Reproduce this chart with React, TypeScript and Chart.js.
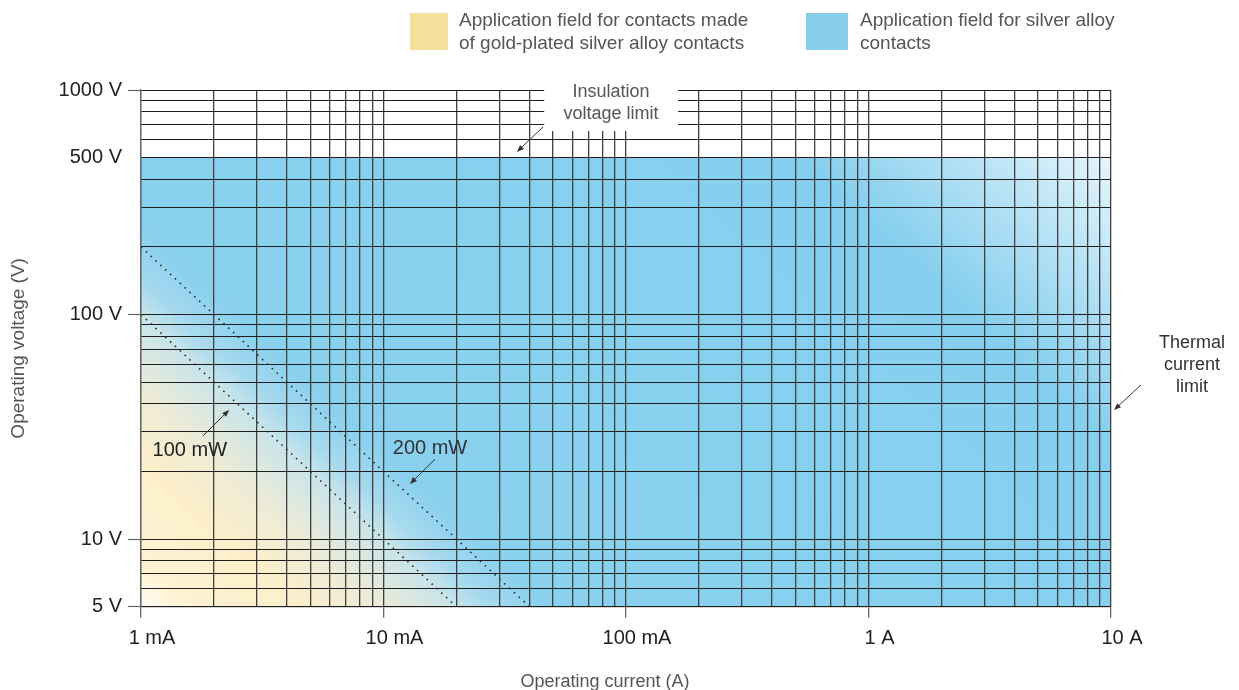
import React, { useEffect, useRef } from 'react';
import { Chart, registerables } from 'chart.js';

Chart.register(...registerables);

// ---------- data ----------
const xMajorValues = [0.001, 0.01, 0.1, 1, 10];
const xMajorLabels = ['1 mA', '10 mA', '100 mA', '1 A', '10 A'];
const xGridValues = [
  0.001, 0.002, 0.003, 0.004, 0.005, 0.006, 0.007, 0.008, 0.009,
  0.01, 0.02, 0.03, 0.04, 0.05, 0.06, 0.07, 0.08, 0.09,
  0.1, 0.2, 0.3, 0.4, 0.5, 0.6, 0.7, 0.8, 0.9,
  1, 2, 3, 4, 5, 6, 7, 8, 9, 10,
];

const yMajorValues = [5, 10, 100, 500, 1000];
const yMajorLabels = ['5 V', '10 V', '100 V', '500 V', '1000 V'];
const yTickMarkValues = [5, 10, 100, 1000];
const yGridValues = [
  5, 6, 7, 8, 9, 10, 20, 30, 40, 50, 60, 70, 80, 90,
  100, 200, 300, 400, 500, 600, 700, 800, 900, 1000,
];

// application field: bounded by the insulation voltage limit (500 V) and thermal current limit (10 A)
const fieldCurrent = [0.001, 10];
const fieldVoltage = [500, 500];

// constant power lines
const p100Current = [0.001, 0.02];
const p100Voltage = [100, 5];
const p200Current = [0.001, 0.04];
const p200Voltage = [200, 5];

const legendGoldLines = ['Application field for contacts made', 'of gold-plated silver alloy contacts'];
const legendBlueLines = ['Application field for silver alloy', 'contacts'];
const insulationLines = ['Insulation', 'voltage limit'];
const thermalLines = ['Thermal', 'current', 'limit'];

// ---------- styles ----------
const FONT = '"Liberation Sans", Arial, Helvetica, sans-serif';
const GOLD_SWATCH = '#F3E19B';
const BLUE_SWATCH = '#86CEEB';
const TEXT_DARK = '#222222';
const TEXT_GREY = '#555555';

const near = (a: number, b: number) => Math.abs(a - b) <= Math.abs(b) * 1e-6;
const labelFor = (v: number, values: number[], labels: string[]) => {
  const i = values.findIndex((m) => near(v, m));
  return i >= 0 ? labels[i] : '';
};

function fieldGradient(chart: any) {
  const { chartArea, scales } = chart;
  const xs = scales.x;
  const ys = scales.y;
  const dx = xs.getPixelForValue(0.01) - xs.getPixelForValue(0.001);
  const dy = ys.getPixelForValue(10) - ys.getPixelForValue(100);
  const len = Math.hypot(dx, dy);
  const ux = dy / len;
  const uy = -dx / len;
  const x0 = chartArea.left;
  const y0 = chartArea.bottom;
  const proj = (px: number, py: number) => (px - x0) * ux + (py - y0) * uy;
  const L = proj(chartArea.right, ys.getPixelForValue(fieldVoltage[0]));
  const t100 = proj(xs.getPixelForValue(p100Current[0]), ys.getPixelForValue(p100Voltage[0])) / L;
  const t200 = proj(xs.getPixelForValue(p200Current[0]), ys.getPixelForValue(p200Voltage[0])) / L;
  const g = chart.ctx.createLinearGradient(x0, y0, x0 + ux * L, y0 + uy * L);
  g.addColorStop(0, '#FFFCF4');
  g.addColorStop(t100 * 0.16, '#FEF2D3');
  g.addColorStop(t100 * 0.5, '#FCEFCA');
  g.addColorStop(t100 * 0.74, '#EEEBD6');
  g.addColorStop(t100, '#C8E4EA');
  g.addColorStop((t100 + t200) / 2, '#A6D9EE');
  g.addColorStop(Math.min(t200 + 0.015, 1), '#88D0EE');
  g.addColorStop(0.79, '#86CFEE');
  g.addColorStop(0.9, '#B6E2F5');
  g.addColorStop(1, '#E6F5FC');
  return g;
}

function arrow(ctx: CanvasRenderingContext2D, x1: number, y1: number, x2: number, y2: number) {
  const ang = Math.atan2(y2 - y1, x2 - x1);
  const head = 7;
  const hw = 2.8;
  ctx.strokeStyle = '#333';
  ctx.fillStyle = '#333';
  ctx.lineWidth = 1;
  ctx.beginPath();
  ctx.moveTo(x1, y1);
  ctx.lineTo(x2 - Math.cos(ang) * head * 0.8, y2 - Math.sin(ang) * head * 0.8);
  ctx.stroke();
  ctx.beginPath();
  ctx.moveTo(x2, y2);
  ctx.lineTo(x2 - Math.cos(ang) * head - Math.sin(ang) * hw, y2 - Math.sin(ang) * head + Math.cos(ang) * hw);
  ctx.lineTo(x2 - Math.cos(ang) * head + Math.sin(ang) * hw, y2 - Math.sin(ang) * head - Math.cos(ang) * hw);
  ctx.closePath();
  ctx.fill();
}

const annotationPlugin = {
  id: 'chartAnnotations',
  afterDraw(chart: any) {
    const { ctx, chartArea, scales } = chart;
    const px = (v: number) => scales.x.getPixelForValue(v);
    const py = (v: number) => scales.y.getPixelForValue(v);
    ctx.save();

    // legend
    ctx.textBaseline = 'middle';
    ctx.textAlign = 'left';
    ctx.font = `19px ${FONT}`;
    ctx.fillStyle = GOLD_SWATCH;
    ctx.fillRect(410, 13, 38, 37);
    ctx.fillStyle = TEXT_GREY;
    legendGoldLines.forEach((t, i) => ctx.fillText(t, 459, 21 + i * 23));
    ctx.fillStyle = BLUE_SWATCH;
    ctx.fillRect(806, 13, 42, 37);
    ctx.fillStyle = TEXT_GREY;
    legendBlueLines.forEach((t, i) => ctx.fillText(t, 860, 21 + i * 23));

    // insulation voltage limit label box
    ctx.font = `18px ${FONT}`;
    const bx0 = px(0.046);
    const bx1 = px(0.164);
    ctx.fillStyle = '#ffffff';
    ctx.fillRect(bx0, chartArea.top - 12, bx1 - bx0, py(657) - (chartArea.top - 12));
    ctx.fillStyle = TEXT_GREY;
    ctx.textAlign = 'center';
    const ix = px(0.0867);
    const iy = py(876);
    insulationLines.forEach((t, i) => ctx.fillText(t, ix, iy - 11 + i * 22));
    arrow(ctx, px(0.0455), py(685), px(0.0355), py(530));

    // thermal current limit
    const tx = px(21.6);
    const ty = py(59.7);
    thermalLines.forEach((t, i) => ctx.fillText(t, tx, ty + (i - 1) * 22));
    arrow(ctx, px(13.3), py(48.6), px(10.29), py(37.6));

    // power line labels
    ctx.font = `20px ${FONT}`;
    ctx.fillStyle = TEXT_DARK;
    ctx.fillText('100 mW', px(0.00159), py(24.9));
    arrow(ctx, px(0.0018), py(28.8), px(0.00231), py(37.6));
    ctx.fillText('200 mW', px(0.01555), py(25.2));
    arrow(ctx, px(0.01631), py(22.7), px(0.01286), py(17.6));

    // x axis title
    ctx.font = `18px ${FONT}`;
    ctx.fillStyle = TEXT_GREY;
    ctx.fillText('Operating current (A)', 605, 682);

    ctx.restore();
  },
};

export default function App() {
  const canvasRef = useRef<HTMLCanvasElement | null>(null);

  useEffect(() => {
    const canvas = canvasRef.current;
    if (!canvas) return;
    const toPoints = (xs: number[], ys: number[]) => xs.map((x, i) => ({ x, y: ys[i] }));

    const chart = new Chart(canvas, {
      type: 'line',
      data: {
        datasets: [
          {
            label: 'Application field',
            data: toPoints(fieldCurrent, fieldVoltage),
            fill: 'start',
            backgroundColor: (c: any) => (c.chart.chartArea ? fieldGradient(c.chart) : BLUE_SWATCH),
            borderWidth: 0,
            borderColor: 'rgba(0,0,0,0)',
            pointRadius: 0,
            order: 3,
          },
          {
            label: '100 mW',
            data: toPoints(p100Current, p100Voltage),
            fill: false,
            borderColor: '#2e2e2e',
            borderWidth: 1.6,
            borderDash: [1.6, 5],
            pointRadius: 0,
            order: 1,
          },
          {
            label: '200 mW',
            data: toPoints(p200Current, p200Voltage),
            fill: false,
            borderColor: '#2e2e2e',
            borderWidth: 1.6,
            borderDash: [1.6, 5],
            pointRadius: 0,
            order: 2,
          },
        ],
      } as any,
      options: {
        responsive: false,
        animation: false,
        events: [],
        layout: { padding: { left: 0, top: 90, right: 128, bottom: 0 } },
        plugins: {
          legend: { display: false },
          tooltip: { enabled: false },
        },
        scales: {
          x: {
            type: 'logarithmic',
            position: 'bottom',
            min: 0.001,
            max: 10,
            z: 1,
            afterBuildTicks: (s: any) => {
              s.ticks = xGridValues.map((v) => ({ value: v }));
            },
            afterFit: (s: any) => {
              s.height = 83.3;
            },
            ticks: {
              autoSkip: false,
              maxRotation: 0,
              minRotation: 0,
              padding: 9,
              labelOffset: 11,
              color: TEXT_DARK,
              font: { family: FONT, size: 20 },
              callback: (v: any) => labelFor(Number(v), xMajorValues, xMajorLabels),
            },
            grid: {
              z: 1,
              color: '#404040',
              lineWidth: 1.3,
              tickLength: 11,
              tickWidth: 1.3,
              tickColor: (c: any) =>
                c.tick && xMajorValues.some((m) => near(c.tick.value, m)) ? '#666' : 'rgba(0,0,0,0)',
            },
            border: { display: true, color: '#555', width: 1.3, z: 1 },
          },
          y: {
            type: 'logarithmic',
            position: 'left',
            min: 5,
            max: 1000,
            z: 1,
            afterBuildTicks: (s: any) => {
              s.ticks = yGridValues.map((v) => ({ value: v }));
            },
            afterFit: (s: any) => {
              s.width = 141;
            },
            ticks: {
              autoSkip: false,
              padding: 6,
              color: TEXT_DARK,
              font: { family: FONT, size: 20 },
              callback: (v: any) => labelFor(Number(v), yMajorValues, yMajorLabels),
            },
            grid: {
              z: 1,
              color: '#1e1e1e',
              lineWidth: 1,
              tickLength: 13,
              tickWidth: 1.2,
              tickColor: (c: any) =>
                c.tick && yTickMarkValues.some((m) => near(c.tick.value, m)) ? '#666' : 'rgba(0,0,0,0)',
            },
            border: { display: true, color: '#666', width: 1.3, z: 1 },
            title: {
              display: true,
              text: 'Operating voltage (V)',
              color: TEXT_GREY,
              font: { family: FONT, size: 19 },
              padding: { top: 7, bottom: 0 },
            },
          },
        },
      } as any,
      plugins: [annotationPlugin],
    });

    return () => chart.destroy();
  }, []);

  return (
    <canvas
      ref={canvasRef}
      width={1239}
      height={690}
      style={{ position: 'fixed', left: 0, top: 0, display: 'block' }}
    />
  );
}
